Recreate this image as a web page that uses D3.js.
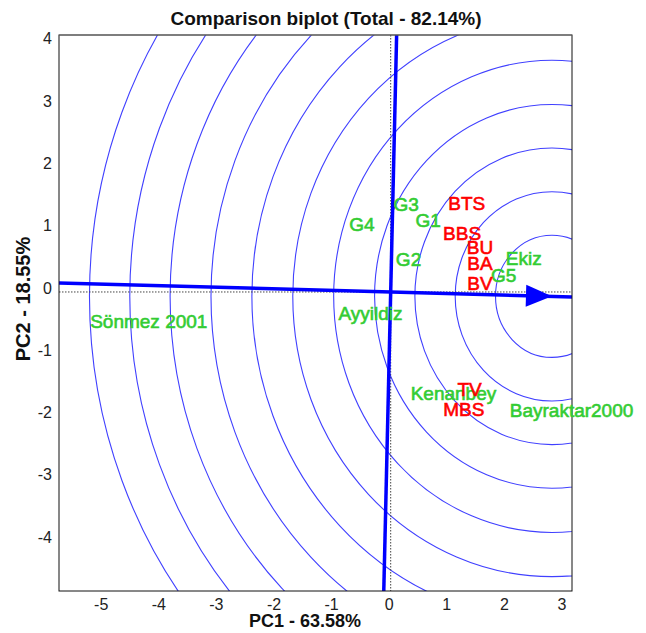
<!DOCTYPE html>
<html>
<head>
<meta charset="utf-8">
<script src="https://cdn.jsdelivr.net/npm/d3@7"></script>
<style>
    body { margin: 0; background: #fff; }
    svg text { font-family: "Liberation Sans", Arial, sans-serif; }
</style>
</head>
<body>
<svg id="graph"></svg>
<script>
//Genotype labels (green)
var genoNames = ["G3", "G4", "G1", "G2", "G5", "Ekiz", "Ayyildiz", "Sönmez 2001", "Kenanbey", "Bayraktar2000"];
var genoX = [0.27, -0.50, 0.65, 0.31, 1.96, 2.31, -0.35, -4.20, 1.09, 3.14];
var genoY = [1.41, 1.09, 1.14, 0.52, 0.27, 0.54, -0.35, -0.47, -1.63, -1.91];

//Trait labels (red)
var traitNames = ["BTS", "BBS", "BU", "BA", "BV", "TV", "MBS"];
var traitX = [1.32, 1.24, 1.55, 1.55, 1.55, 1.37, 1.27];
var traitY = [1.42, 0.94, 0.72, 0.45, 0.13, -1.56, -1.89];

//Ideal point and concentric circle radii
var idealPoint = [2.80, -0.07];
var radii = [0.98, 1.68, 2.38, 3.08, 3.79, 4.50, 5.21, 5.92, 6.63, 7.33, 8.03];

//Tick labels
var xTicks = [-5, -4, -3, -2, -1, 0, 1, 2, 3];
var yTicks = [-4, -3, -2, -1, 0, 1, 2, 3, 4];

//Set graph size
var screen = {width: 646, height: 633};
var plot = {left: 59, right: 572, top: 35, bottom: 591};

var svg = d3.select("#graph")
    .attr("width", screen.width)
    .attr("height", screen.height);

//Define scales
var xScale = d3.scaleLinear()
    .domain([-5.759, 3.148])
    .range([plot.left, plot.right]);

var yScale = d3.scaleLinear()
    .domain([-4.80, 4.125])
    .range([plot.bottom, plot.top]);

//Clip to plot area
svg.append("clipPath")
    .attr("id", "clip")
    .append("rect")
    .attr("x", plot.left)
    .attr("y", plot.top)
    .attr("width", plot.right - plot.left)
    .attr("height", plot.bottom - plot.top);

var inner = svg.append("g").attr("clip-path", "url(#clip)");

//Draw circles around ideal point
inner.selectAll("ellipse")
    .data(radii)
    .enter()
    .append("ellipse")
    .attr("cx", xScale(idealPoint[0]))
    .attr("cy", yScale(idealPoint[1]))
    .attr("rx", function(r){ return xScale(r) - xScale(0); })
    .attr("ry", function(r){ return yScale(0) - yScale(r); })
    .attr("fill", "none")
    .attr("stroke", "#4040ff")
    .attr("stroke-width", 1.1);

//Dotted zero lines
inner.append("line")
    .attr("x1", plot.left).attr("x2", plot.right)
    .attr("y1", yScale(0)).attr("y2", yScale(0))
    .attr("stroke", "#444").attr("stroke-width", 1)
    .attr("stroke-dasharray", "1.5,1.5");

inner.append("line")
    .attr("x1", xScale(0)).attr("x2", xScale(0))
    .attr("y1", plot.top).attr("y2", plot.bottom)
    .attr("stroke", "#444").attr("stroke-width", 1)
    .attr("stroke-dasharray", "1.5,1.5");

//Average environment axis and its perpendicular
var slope = idealPoint[1] / idealPoint[0];
var xd = xScale.domain();
var yd = yScale.domain();

inner.append("line")
    .attr("x1", xScale(xd[0])).attr("y1", yScale(slope * xd[0]))
    .attr("x2", xScale(xd[1])).attr("y2", yScale(slope * xd[1]))
    .attr("stroke", "#0000ff").attr("stroke-width", 3.5);

inner.append("line")
    .attr("x1", xScale(-slope * yd[0])).attr("y1", yScale(yd[0]))
    .attr("x2", xScale(-slope * yd[1])).attr("y2", yScale(yd[1]))
    .attr("stroke", "#0000ff").attr("stroke-width", 3.5);

//Arrow head at ideal point
var tipX = xScale(idealPoint[0]);
var tipY = yScale(idealPoint[1]);
var angle = Math.atan2(tipY - yScale(0), tipX - xScale(0));
var headLen = 26, headHalf = 11;
var bx = tipX - headLen * Math.cos(angle);
var by = tipY - headLen * Math.sin(angle);
svg.append("path")
    .attr("d", "M" + tipX + "," + tipY +
        "L" + (bx - headHalf * Math.sin(angle)) + "," + (by + headHalf * Math.cos(angle)) +
        "L" + (bx + headHalf * Math.sin(angle)) + "," + (by - headHalf * Math.cos(angle)) + "Z")
    .attr("fill", "#0000ff");

//Plot box
svg.append("rect")
    .attr("x", plot.left).attr("y", plot.top)
    .attr("width", plot.right - plot.left)
    .attr("height", plot.bottom - plot.top)
    .attr("fill", "none").attr("stroke", "#111").attr("stroke-width", 1);
svg.append("line")
    .attr("x1", plot.left).attr("x2", plot.right)
    .attr("y1", plot.top).attr("y2", plot.top)
    .attr("stroke", "#777").attr("stroke-width", 1.2);

//Plain hyphen for negative ticks
var tickFmt = function(d){ return String(d); };

//Axes (labels only)
var xAxis = d3.axisBottom(xScale).tickValues(xTicks).tickFormat(tickFmt).tickSize(0).tickPadding(8);
var gx = svg.append("g")
    .attr("transform", "translate(0," + plot.bottom + ")")
    .call(xAxis);
gx.select(".domain").remove();
gx.selectAll("text")
    .attr("font-size", 16)
    .attr("font-family", "Liberation Sans, Arial, sans-serif")
    .attr("fill", "#222")
    .attr("dx", -2);

var yAxis = d3.axisLeft(yScale).tickValues(yTicks).tickFormat(tickFmt).tickSize(0).tickPadding(7);
var gy = svg.append("g")
    .attr("transform", "translate(" + plot.left + ",0)")
    .call(yAxis);
gy.select(".domain").remove();
gy.selectAll("text")
    .attr("font-size", 16)
    .attr("font-family", "Liberation Sans, Arial, sans-serif")
    .attr("fill", "#222")
    .attr("y", -4);

//Point labels
var drawLabels = function(names, xs, ys, color)
{
    svg.append("g")
        .selectAll("text")
        .data(names)
        .enter()
        .append("text")
        .attr("x", function(n, i){ return xScale(xs[i]); })
        .attr("y", function(n, i){ return yScale(ys[i]); })
        .attr("text-anchor", "middle")
        .attr("dominant-baseline", "central")
        .attr("font-size", 19)
        .attr("fill", color)
        .attr("stroke", color)
        .attr("stroke-width", 0.6)
        .text(function(n){ return n; });
}
drawLabels(genoNames, genoX, genoY, "#33cc33");
drawLabels(traitNames, traitX, traitY, "#ff0000");

//Titles
svg.append("text")
    .attr("x", 326).attr("y", 25)
    .attr("text-anchor", "middle")
    .attr("font-size", 19).attr("font-weight", "bold")
    .attr("fill", "#111")
    .text("Comparison biplot (Total - 82.14%)");

svg.append("text")
    .attr("x", 305).attr("y", 627)
    .attr("text-anchor", "middle")
    .attr("font-size", 18).attr("font-weight", "bold")
    .attr("fill", "#111")
    .text("PC1 - 63.58%");

svg.append("text")
    .attr("transform", "translate(30,299) rotate(-90)")
    .attr("text-anchor", "middle")
    .attr("font-size", 20).attr("font-weight", "bold")
    .attr("fill", "#111")
    .text("PC2 - 18.55%");
</script>
</body>
</html>
